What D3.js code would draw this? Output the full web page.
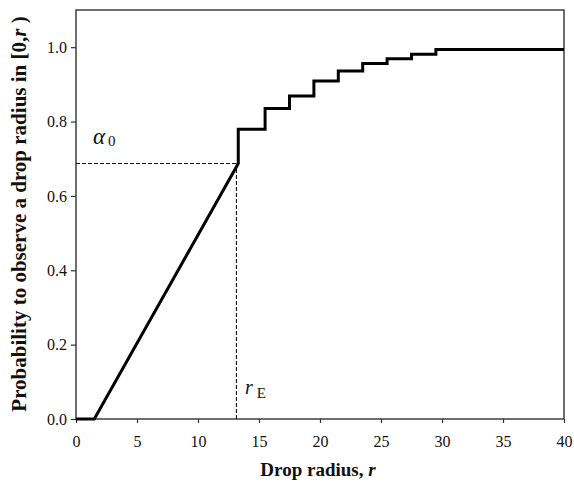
<!DOCTYPE html>
<html>
<head>
<meta charset="utf-8">
<script src="https://cdn.jsdelivr.net/npm/d3@7"></script>
<style>
  body { margin: 0; background: #fff; }
  text { font-family: "Liberation Serif", "Times New Roman", serif; fill: #111; }
</style>
</head>
<body>
<div id="canvas"></div>
<script>
// data
var rampR = [0, 1.5, 13.3];
var rampP = [0, 0, 0.687];
var stepR = [13.3, 15.5, 17.5, 19.5, 21.5, 23.5, 25.5, 27.5, 29.5, 40];
var stepP = [0.779, 0.835, 0.869, 0.909, 0.936, 0.956, 0.969, 0.981, 0.994, 0.994];
var xTicks = [0, 5, 10, 15, 20, 25, 30, 35, 40];
var yTicks = [0, 0.2, 0.4, 0.6, 0.8, 1.0];
var alpha0 = 0.687;
var rE = 13.15;

(function () {
var W = 574, H = 485;
var mLeft = 76, mRight = 564, mTop = 10, mBottom = 419;

var x = d3.scaleLinear().domain([0, 40]).range([mLeft, mRight]);
var y = d3.scaleLinear().domain([0, 1.1]).range([mBottom, mTop]);

var svg = d3.select("#canvas").append("svg")
    .attr("width", W)
    .attr("height", H);

// frame
svg.append("rect")
    .attr("x", mLeft).attr("y", mTop)
    .attr("width", mRight - mLeft).attr("height", mBottom - mTop)
    .attr("fill", "none")
    .attr("stroke", "#333")
    .attr("stroke-width", 1.4);

// axes
var xAxis = svg.append("g")
    .attr("transform", "translate(0," + mBottom + ")")
    .call(d3.axisBottom(x).tickValues(xTicks).tickSize(4).tickPadding(13).tickFormat(d3.format("d")));
var yAxis = svg.append("g")
    .attr("transform", "translate(" + mLeft + ",0)")
    .call(d3.axisLeft(y).tickValues(yTicks).tickSize(5).tickPadding(4).tickFormat(d3.format(".1f")));

[xAxis, yAxis].forEach(function (g) {
  g.select(".domain").remove();
  g.selectAll("line").attr("stroke", "#333").attr("stroke-width", 1.2);
  g.selectAll("text").style("font-size", "16px").style("font-family", "Liberation Serif, serif").attr("fill", "#111");
});

// dashed guides
svg.append("line")
    .attr("x1", x(0)).attr("x2", x(rE))
    .attr("y1", y(alpha0)).attr("y2", y(alpha0))
    .attr("stroke", "#111").attr("stroke-width", 1.1)
    .attr("stroke-dasharray", "4,2");
svg.append("line")
    .attr("x1", x(rE)).attr("x2", x(rE))
    .attr("y1", y(0)).attr("y2", y(alpha0))
    .attr("stroke", "#111").attr("stroke-width", 1.1)
    .attr("stroke-dasharray", "4,2");

// curve: ramp then steps
var pts = rampR.map(function (r, i) { return [r, rampP[i]]; });
stepR.forEach(function (r, i) {
  if (i > 0) pts.push([r, stepP[i - 1]]);
  pts.push([r, stepP[i]]);
});

var line = d3.line()
    .x(function (d) { return x(d[0]); })
    .y(function (d) { return y(d[1]); });

svg.append("path")
    .datum(pts)
    .attr("d", line)
    .attr("fill", "none")
    .attr("stroke", "#000")
    .attr("stroke-width", 3)
    .attr("stroke-linejoin", "miter");

// annotations
var a = svg.append("text")
    .attr("x", 93).attr("y", 144)
    .style("font-size", "23px");
a.append("tspan").style("font-style", "italic").text("α");
a.append("tspan").attr("dx", 3).attr("dy", 2).style("font-size", "15px").text("0");

var re = svg.append("text")
    .attr("x", 245).attr("y", 394)
    .style("font-size", "20px");
re.append("tspan").style("font-style", "italic").text("r");
re.append("tspan").attr("dx", 4).attr("dy", 4).style("font-size", "15px").text("E");

// axis titles
var xl = svg.append("text")
    .attr("x", 318).attr("y", 476)
    .attr("text-anchor", "middle")
    .style("font-size", "19px").style("font-weight", "bold");
xl.append("tspan").text("Drop radius, ");
xl.append("tspan").style("font-style", "italic").text("r");

var yl = svg.append("text")
    .attr("transform", "translate(26,214) rotate(-90)")
    .attr("text-anchor", "middle")
    .style("font-size", "21px").style("font-weight", "bold");
yl.append("tspan").text("Probability to observe a drop radius in [0,");
yl.append("tspan").style("font-style", "italic").text("r");
yl.append("tspan").text(" )");
})();
</script>
</body>
</html>
